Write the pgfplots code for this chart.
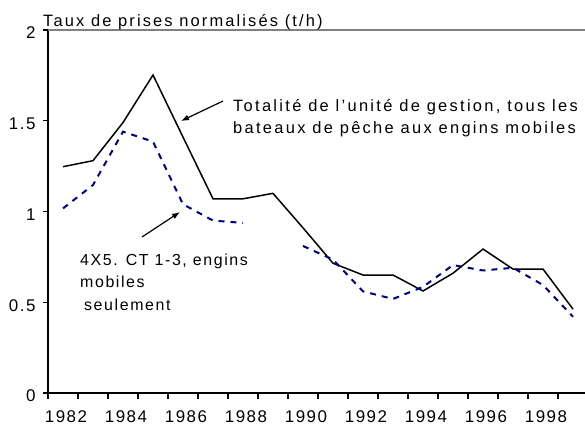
\documentclass[border=0pt]{standalone}
\usepackage{fontspec}
\setmainfont{Liberation Sans}
\usepackage{pgfplots}
\pgfplotsset{compat=1.18}
\usetikzlibrary{arrows.meta}
\definecolor{zonenavy}{RGB}{0,0,128}
\definecolor{framegray}{RGB}{128,128,128}

\begin{document}
\begin{tikzpicture}
\useasboundingbox (-48bp,-38bp) rectangle (537bp,393bp);
\begin{axis}[
  scale only axis, width=537bp, height=363bp,
  xmin=1981.5, xmax=1999.4, ymin=0, ymax=2,
  axis x line*=bottom, axis y line*=left,
  axis line style={line width=1.6bp, black},
  clip=false,
  xtick={1982,1984,...,1998},
  xticklabels={1982,1984,1986,1988,1990,1992,1994,1996,1998},
  ytick={0,0.5,1,1.5,2},
  yticklabels={0,0.5,1,1.5,2},
  tick style={draw=none},
  /pgf/number format/assume math mode=true,
  tick label style={font=\fontsize{17}{20}\selectfont\addfontfeature{LetterSpace=9}},
  xticklabel style={yshift=-14.5bp, xshift=3bp},
  yticklabel style={xshift=-9bp, yshift=-3bp},
]
\draw[framegray, line width=1.5bp] (rel axis cs:0,1) -- (rel axis cs:1,1);
% tick marks between the years and at the y values
\pgfplotsinvokeforeach{1981.5,1982.5,1983.5,1984.5,1985.5,1986.5,1987.5,
    1988.5,1989.5,1990.5,1991.5,1992.5,1993.5,1994.5,1995.5,1996.5,
    1997.5,1998.5}{
  \draw[black, line width=1.3bp]
    (axis cs:#1,0) -- ([yshift=-6bp]axis cs:#1,0);
}
\pgfplotsinvokeforeach{0,0.5,1,1.5,2}{
  \draw[black, line width=1.3bp]
    (axis cs:1981.5,#1) -- ([xshift=-5bp]axis cs:1981.5,#1);
}

% toute l'unite, engins mobiles
\addplot[black, line width=1.5bp, no markers] coordinates {
  (1982,1.247) (1983,1.28) (1984,1.49) (1985,1.752) (1986,1.41)
  (1987,1.07) (1988,1.07) (1989,1.10) (1990,0.91) (1991,0.715)
  (1992,0.65) (1993,0.65) (1994,0.562) (1995,0.66) (1996,0.793)
  (1997,0.683) (1998,0.683) (1999,0.462)
};
% 4X5 CT 1-3
\addplot[zonenavy, line width=2bp, dash pattern=on 6bp off 6bp,
         no markers, unbounded coords=jump] coordinates {
  (1982,1.017) (1983,1.146) (1984,1.44) (1985,1.385) (1986,1.04)
  (1987,0.95) (1988,0.937) (1989,nan) (1990,0.81) (1991,0.735)
  (1992,0.56) (1993,0.518) (1994,0.585) (1995,0.705) (1996,0.675)
  (1997,0.69) (1998,0.595) (1999,0.42)
};

\node[anchor=base west, inner sep=0pt,
      font=\fontsize{16.5}{19}\selectfont\addfontfeature{LetterSpace=13}]
  at (axis cs:1981.333,2.022) {Taux de prises normalisés (t/h)};
\node[anchor=base west, inner sep=0pt,
      font=\fontsize{16.5}{19}\selectfont\addfontfeature{LetterSpace=14}]
  at (axis cs:1987.667,1.553) {Totalité de l’unité de gestion, tous les};
\node[anchor=base west, inner sep=0pt,
      font=\fontsize{16.5}{19}\selectfont\addfontfeature{LetterSpace=14}]
  at (axis cs:1987.667,1.432) {bateaux de pêche aux engins mobiles};
\node[anchor=base west, inner sep=0pt,
      font=\fontsize{16}{19}\selectfont\addfontfeature{LetterSpace=10}]
  at (axis cs:1982.567,0.705) {4X5. CT 1-3, engins};
\node[anchor=base west, inner sep=0pt,
      font=\fontsize{16}{19}\selectfont\addfontfeature{LetterSpace=10}]
  at (axis cs:1982.567,0.58) {mobiles};
\node[anchor=base west, inner sep=0pt,
      font=\fontsize{16}{19}\selectfont\addfontfeature{LetterSpace=10}]
  at (axis cs:1982.7,0.455) {seulement};

\draw[-{Latex[length=8bp,width=6bp]}, line width=1.2bp]
  (axis cs:1987.333,1.6088) -- (axis cs:1985.933,1.4986);
\draw[-{Latex[length=8bp,width=6bp]}, line width=1.2bp]
  (axis cs:1984.633,0.8595) -- (axis cs:1985.9,0.9972);
\end{axis}
\end{tikzpicture}
\end{document}
